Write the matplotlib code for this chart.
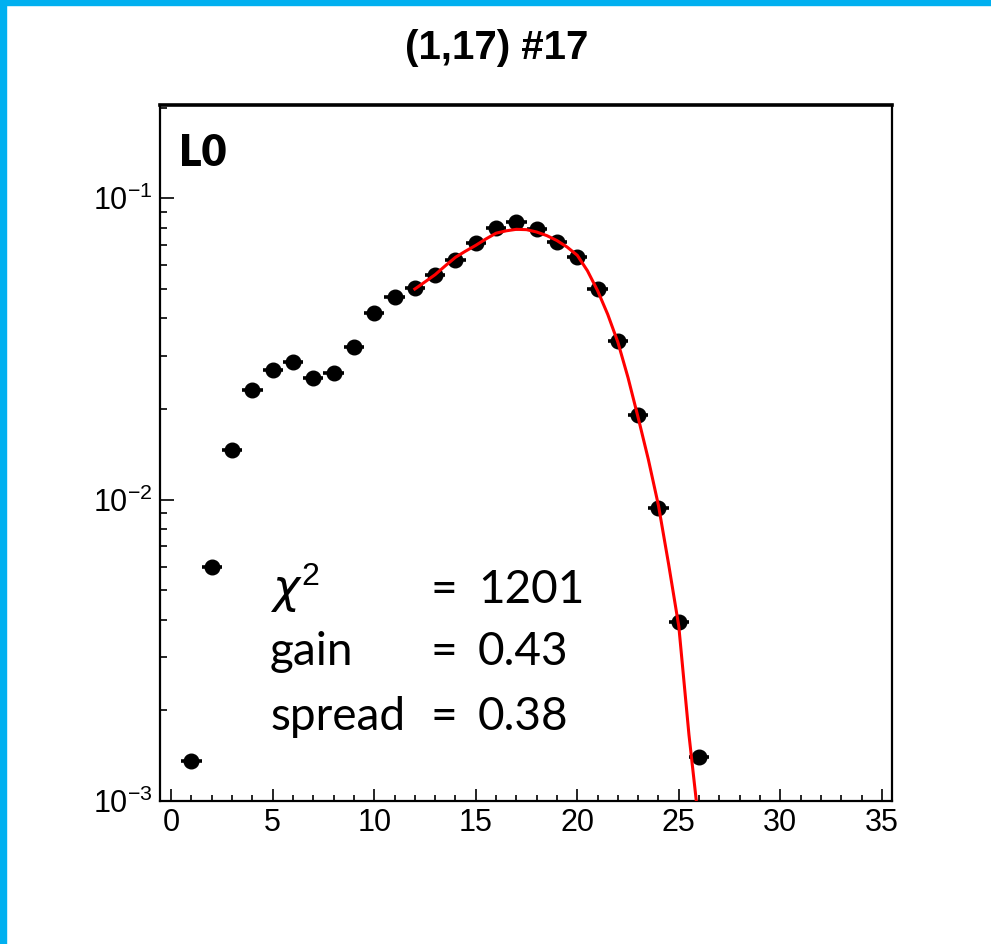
import matplotlib
matplotlib.use('Agg')
import matplotlib.pyplot as plt
from matplotlib.ticker import MultipleLocator, LogLocator, NullFormatter
from matplotlib.patches import Rectangle

# histogram contents, one per bin (centres 1..26)
bins = list(range(1, 27))
counts = [0.00136, 0.00598, 0.0146, 0.0232, 0.0270, 0.0287, 0.0254, 0.0264, 0.0320, 0.0415,
          0.0472, 0.0502, 0.0555, 0.0622, 0.0708, 0.0794, 0.0832, 0.0788, 0.0714, 0.0637,
          0.0499, 0.0335, 0.0191, 0.0094, 0.00394, 0.00140]
bin_halfwidth = 0.5

# fitted curve
fit_x = [12, 12.5, 13, 13.5, 14, 14.5, 15, 15.5, 16, 16.5, 17, 17.5, 18, 18.5, 19, 19.5,
         20, 20.5, 21, 21.5, 22, 22.5, 23, 23.5, 24, 24.5, 25, 25.5, 25.9]
fit_y = [0.0500, 0.0528, 0.0558, 0.0597, 0.0637, 0.0668, 0.0698, 0.0733, 0.0766, 0.0780,
         0.0789, 0.0787, 0.0773, 0.0752, 0.0724, 0.0689, 0.0647, 0.0575, 0.0494, 0.0412,
         0.0333, 0.0254, 0.0187, 0.0136, 0.00955, 0.0061, 0.0038, 0.00166, 0.00095]

title = '(1,17) #17'
label = 'L0'
stat_names = [r'$\chi^{2}$', 'gain', 'spread']
stat_values = ['1201', '0.43', '0.38']

tickfont = 'Liberation Sans'
textfont = ['Lato', 'DejaVu Sans']
plt.rcParams['font.family'] = tickfont
plt.rcParams['mathtext.fontset'] = 'custom'
plt.rcParams['mathtext.rm'] = tickfont
plt.rcParams['mathtext.it'] = 'DejaVu Sans:italic'

W, H = 991, 944
fig = plt.figure(figsize=(W / 100, H / 100), dpi=100)

def fx(px):
    return px / W

def fy(py):
    return 1 - py / H

# slide frame (blue strip top and left)
fig.patches.append(Rectangle((0, fy(5)), 1, 5 / H, transform=fig.transFigure,
                             color='#00B0F0', zorder=10))
fig.patches.append(Rectangle((0, 0), 6 / W, 1, transform=fig.transFigure,
                             color='#00B0F0', zorder=10))

ax = fig.add_axes([fx(160), fy(801), fx(892) - fx(160), fy(105) - fy(801)])

ax.errorbar(bins, counts, xerr=bin_halfwidth, fmt='o', color='black', ms=10.5,
            elinewidth=2.6, capsize=0, zorder=3)
ax.plot(fit_x, fit_y, color='red', lw=2.2, zorder=4)

ax.set_yscale('log')
ax.set_xlim(-0.55, 35.5)
ax.set_ylim(1e-3, 0.204)

ax.xaxis.set_major_locator(MultipleLocator(5))
ax.xaxis.set_minor_locator(MultipleLocator(1))
ax.yaxis.set_major_locator(LogLocator(base=10))
ax.yaxis.set_minor_locator(LogLocator(base=10, subs=range(2, 10)))
ax.yaxis.set_minor_formatter(NullFormatter())
ax.tick_params(axis='both', which='both', direction='in', top=False, right=False,
               width=1.2, colors='black', labelsize=22)
ax.tick_params(axis='x', which='major', length=9, pad=5)
ax.tick_params(axis='x', which='minor', length=4.5)
ax.tick_params(axis='y', which='major', length=10, pad=5)
ax.tick_params(axis='y', which='minor', length=5)

for side in ['left', 'right', 'bottom']:
    ax.spines[side].set_linewidth(1.6)
ax.spines['top'].set_linewidth(2.6)

fig.text(fx(497), fy(48), title, ha='center', va='center', fontsize=29,
         fontweight='bold', family=tickfont)
fig.text(fx(179), fy(166), label, ha='left', va='baseline', fontsize=31,
         fontweight='heavy', family=textfont)

baselines = [603, 665, 730]
for name, val, b in zip(stat_names, stat_values, baselines):
    fig.text(fx(270), fy(b), name, ha='left', va='baseline', fontsize=33, family=textfont)
    fig.text(fx(430), fy(b), '=', ha='left', va='baseline', fontsize=33, family=textfont)
    fig.text(fx(478), fy(b), val, ha='left', va='baseline', fontsize=33, family=textfont)

fig.savefig('out.png', dpi=100)
